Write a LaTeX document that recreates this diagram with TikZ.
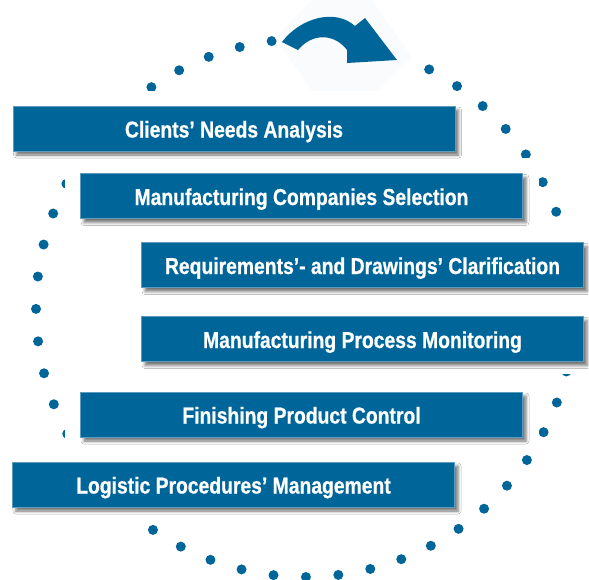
\documentclass[tikz,border=0pt]{standalone}
\usepackage{fontspec}
\newfontfamily\boxfont{Liberation Sans Bold}[FakeStretch=0.84, FakeBold=0.7]
\usetikzlibrary{shadows.blur}
\definecolor{boxblue}{HTML}{00669A}
\definecolor{hexbg}{HTML}{FAFBFC}
\begin{document}
\begin{tikzpicture}[x=1pt,y=-1pt,
  stepbox/.style={fill=boxblue, draw=boxblue!65!white, line width=0.6pt,
    minimum width=442pt, minimum height=45pt, inner sep=0pt, text=white,
    text height=18pt, text depth=0pt,
    font=\boxfont\fontsize{23}{27}\selectfont,
    blur shadow={shadow xshift=3.5pt, shadow yshift=-4pt, shadow blur radius=3pt, shadow opacity=55}},
  dotmark/.style={fill=boxblue}]
\useasboundingbox (0,0) rectangle (589,579);
% dotted circle
\foreach \k in {0,...,22,27,28,...,51}
  \fill[dotmark] ({305+269*cos(-89.8+\k*6.923)}, {308-269*sin(-89.8+\k*6.923)}) circle (5);
% faint background behind the arrow
\fill[hexbg] (275,38) -- (312,0) -- (372,0) -- (412,57) -- (378,91) -- (312,91) -- cycle;
% curved arrow
\fill[boxblue] (282,42) .. controls (300,18) and (335,8) .. (355,26) -- (365,18) -- (397,60)
  -- (347,63) -- (347,50) .. controls (335,34) and (313,32) .. (298,50) -- cycle;
% white margins round the boxes
\foreach \cx/\cy in {234/128.5, 301.5/196, 362.5/265, 362.5/339, 301.5/414.5, 233.5/484.5}
  \fill[white] (\cx-237,\cy-38) rectangle (\cx+237,\cy+35);
% boxes
\node[stepbox] (b1) at (234,128.5) {Clients’ Needs Analysis};
\node[stepbox] (b2) at (301.5,196) {Manufacturing Companies Selection};
\node[stepbox] (b3) at (362.5,265) {Requirements’- and Drawings’ Clarification};
\node[stepbox] (b4) at (362.5,339) {Manufacturing Process Monitoring};
\node[stepbox] (b5) at (301.5,414.5) {Finishing Product Control};
\node[stepbox] (b6) at (233.5,484.5) {Logistic Procedures’ Management};
\end{tikzpicture}
\end{document}
